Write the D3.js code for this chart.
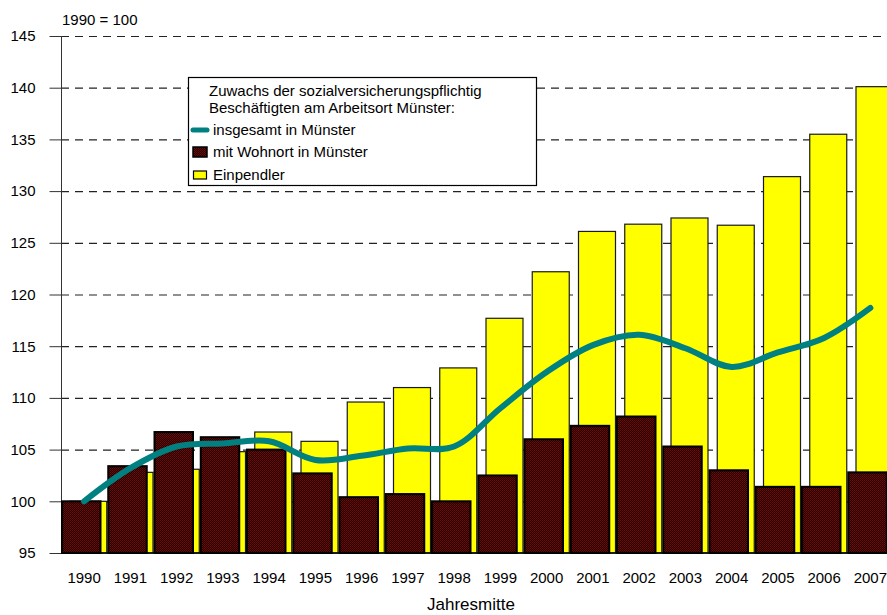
<!DOCTYPE html>
<html>
<head>
<meta charset="utf-8">
<script src="https://cdn.jsdelivr.net/npm/d3@7"></script>
<style>
  html, body { margin: 0; padding: 0; background: #fff; }
  svg { display: block; font-family: Arial, "Liberation Sans", sans-serif; }
</style>
</head>
<body>
<svg id="chart" width="887" height="615"></svg>
<script>
// Beschäftigte am Arbeitsort Münster, Index 1990 = 100
const years = ["1990","1991","1992","1993","1994","1995","1996","1997","1998",
               "1999","2000","2001","2002","2003","2004","2005","2006","2007"];
// mit Wohnort in Münster
const wohnort = [100.0, 103.4, 106.7, 106.2, 105.0, 102.7, 100.4, 100.7, 100.0,
                 102.5, 106.0, 107.3, 108.2, 105.3, 103.0, 101.4, 101.4, 102.8];
// Einpendler
const einpendler = [100.0, 102.8, 103.1, 104.8, 106.7, 105.8, 109.6, 111.0, 112.9,
                    117.7, 122.2, 126.1, 126.8, 127.4, 126.7, 131.4, 135.5, 140.1];
// insgesamt in Münster
const insgesamt = [100.0, 103.2, 105.3, 105.6, 105.8, 104.0, 104.4, 105.1, 105.3,
                   109.0, 112.5, 115.1, 116.1, 114.8, 113.0, 114.4, 115.8, 118.7];
const yTicks = [95, 100, 105, 110, 115, 120, 125, 130, 135, 140, 145];

const legendTitle = ["Zuwachs der sozialversicherungspflichtig",
                     "Beschäftigten am Arbeitsort Münster:"];
const legendItems = ["insgesamt in Münster", "mit Wohnort in Münster", "Einpendler"];

const svg = d3.select("#chart");
const plotLeft = 61, plotTop = 36, plotBottom = 553, step = 46.25;

const x = d3.scaleBand().domain(years)
  .range([plotLeft, plotLeft + years.length * step]).paddingInner(0).paddingOuter(0);
const y = d3.scaleLinear().domain([95, 145]).range([plotBottom, plotTop]);

// dotted dark-red fill for the resident bars
const defs = svg.append("defs");
const pat = defs.append("pattern").attr("id", "wohn").attr("width", 2).attr("height", 2)
  .attr("patternUnits", "userSpaceOnUse");
pat.append("rect").attr("width", 2).attr("height", 2).attr("fill", "#1c0000");
pat.append("rect").attr("x", 0).attr("y", 0).attr("width", 1).attr("height", 1).attr("fill", "#7a0606");
pat.append("rect").attr("x", 1).attr("y", 1).attr("width", 1).attr("height", 1).attr("fill", "#6a0404");

// grid lines
svg.append("g").selectAll("line").data(yTicks.filter(d => d > 95)).join("line")
  .attr("x1", plotLeft).attr("x2", 887)
  .attr("y1", d => y(d) + 0.5).attr("y2", d => y(d) + 0.5)
  .attr("stroke", "#222").attr("stroke-width", 1.2)
  .attr("stroke-dasharray", "8,6");

// y axis
const yAxis = d3.axisLeft(y).tickValues(yTicks).tickSize(12).tickPadding(14);
const gy = svg.append("g").attr("transform", `translate(${plotLeft + 0.5},0)`).call(yAxis);
gy.select(".domain").attr("stroke", "#333").attr("d", `M0,${plotTop}V${plotBottom}`);
gy.selectAll(".tick line").attr("stroke", "#333");
gy.selectAll(".tick text").attr("font-size", "15px").attr("fill", "#000")
  .attr("font-family", "Arial, 'Liberation Sans', sans-serif");

// Einpendler bars (behind)
const bw = 38;
svg.append("g").selectAll("rect").data(einpendler).join("rect")
  .attr("x", (d, i) => x(years[i]) + step - bw + 0.5)
  .attr("y", d => y(d))
  .attr("width", bw - 1)
  .attr("height", d => y(95) - y(d))
  .attr("fill", "#ffff00").attr("stroke", "#1a1a1a").attr("stroke-width", 1.2);

// Wohnort bars (front)
svg.append("g").selectAll("rect").data(wohnort).join("rect")
  .attr("x", (d, i) => x(years[i]) + 1)
  .attr("y", d => y(d))
  .attr("width", 38.5)
  .attr("height", d => y(95) - y(d))
  .attr("fill", "url(#wohn)").attr("stroke", "#000").attr("stroke-width", 2);

// x axis
const xAxis = d3.axisBottom(x).tickSize(0).tickPadding(19);
const gx = svg.append("g").attr("transform", `translate(0,${plotBottom})`).call(xAxis);
gx.select(".domain").attr("stroke", "#000").attr("stroke-width", 1.5)
  .attr("d", `M${plotLeft},0H887`);
gx.selectAll(".tick text").attr("font-size", "15px").attr("fill", "#000")
  .attr("font-family", "Arial, 'Liberation Sans', sans-serif");

// insgesamt line
const line = d3.line()
  .x((d, i) => x(years[i]) + x.bandwidth() / 2)
  .y(d => y(d))
  .curve(d3.curveCatmullRom.alpha(0.5));
svg.append("path").datum(insgesamt).attr("d", line)
  .attr("fill", "none").attr("stroke", "#008080").attr("stroke-width", 6)
  .attr("stroke-linecap", "round").attr("stroke-linejoin", "round");

// labels
svg.append("text").attr("x", 62).attr("y", 25).attr("font-size", "15px").text("1990 = 100");
svg.append("text").attr("x", 427).attr("y", 610).attr("font-size", "17px").text("Jahresmitte");

// legend
const lg = svg.append("g");
lg.append("rect").attr("x", 188.5).attr("y", 77.5).attr("width", 348).attr("height", 108)
  .attr("fill", "#fff").attr("stroke", "#000").attr("stroke-width", 1.2);
lg.selectAll("text.t").data(legendTitle).join("text").attr("class", "t")
  .attr("x", 209).attr("y", (d, i) => 96 + i * 17).attr("font-size", "15px").text(d => d);
const itemY = [135, 157, 180];
lg.selectAll("text.i").data(legendItems).join("text").attr("class", "i")
  .attr("x", 213).attr("y", (d, i) => itemY[i]).attr("font-size", "15px").text(d => d);
lg.append("line").attr("x1", 193).attr("x2", 207).attr("y1", 130).attr("y2", 130)
  .attr("stroke", "#008080").attr("stroke-width", 5).attr("stroke-linecap", "round");
lg.append("rect").attr("x", 193).attr("y", 147).attr("width", 14).attr("height", 10)
  .attr("fill", "url(#wohn)").attr("stroke", "#000").attr("stroke-width", 1.5);
lg.append("rect").attr("x", 193.5).attr("y", 171).attr("width", 13).attr("height", 8)
  .attr("fill", "#ffff00").attr("stroke", "#000").attr("stroke-width", 1.2);
</script>
</body>
</html>
